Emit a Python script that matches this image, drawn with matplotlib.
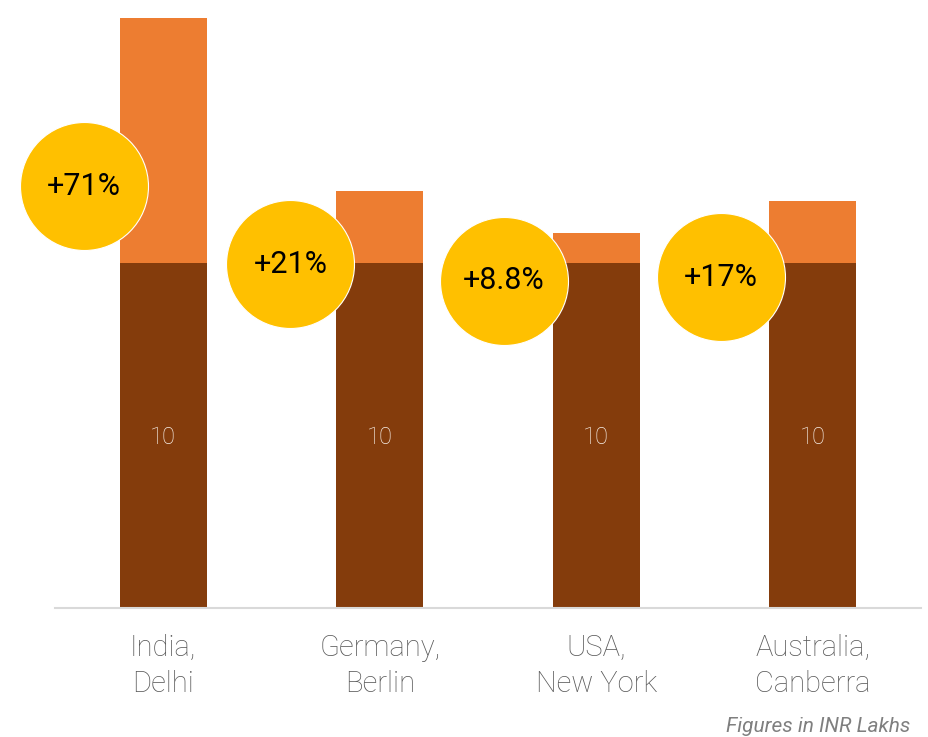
import matplotlib.pyplot as plt

plt.rcParams['font.family'] = ['Roboto', 'DejaVu Sans']

cities = ['India,\nDelhi', 'Germany,\nBerlin', 'USA,\nNew York', 'Australia,\nCanberra']
base = [10, 10, 10, 10]
increase = [7.1, 2.1, 0.88, 1.8]
growth_labels = ['+71%', '+21%', '+8.8%', '+17%']

# where the yellow bubbles sit (x offset from bar centre, y in data units)
bubble_dx = [-0.367, -0.413, -0.427, -0.423]
bubble_y = [12.23, 9.97, 9.48, 9.59]

fig = plt.figure(figsize=(9.29, 7.37), dpi=100)
ax = fig.add_axes([55 / 929, (737 - 608) / 737, 866 / 929, 608 / 737])

x = list(range(len(cities)))
ax.bar(x, base, width=0.40, color='#843C0C', zorder=2)
ax.bar(x, increase, width=0.40, bottom=base, color='#ED7D31', zorder=2)

for i in x:
    ax.text(i, base[i] / 2, str(base[i]), ha='center', va='center_baseline',
            color='#F7EFE8', fontsize=17, fontweight='light', zorder=3)

bx = [i + d for i, d in zip(x, bubble_dx)]
ax.scatter(bx, bubble_y, s=8493, color='#FFC000', edgecolors='white',
           linewidths=0.8, zorder=4, clip_on=False)
for xi, yi, lab in zip(bx, bubble_y, growth_labels):
    ax.text(xi, yi, lab, ha='center', va='center', fontsize=22,
            color='black', zorder=5)

ax.set_xlim(-0.5, 3.5)
ax.set_ylim(0, 608 / 34.5)
ax.set_xticks(x)
ax.set_xticklabels(cities, fontsize=21, fontweight='light', color='#595959',
                   linespacing=1.35)
ax.tick_params(axis='x', length=0, pad=19)
ax.set_yticks([])
for side in ['top', 'right', 'left']:
    ax.spines[side].set_visible(False)
ax.spines['bottom'].set_color('#D9D9D9')
ax.spines['bottom'].set_linewidth(1.5)

fig.text(910 / 929, 1 - 726 / 737, 'Figures in INR Lakhs', ha='right', va='center',
         fontsize=15, style='italic', color='#7F7F7F')

fig.savefig('out.png', dpi=100)
